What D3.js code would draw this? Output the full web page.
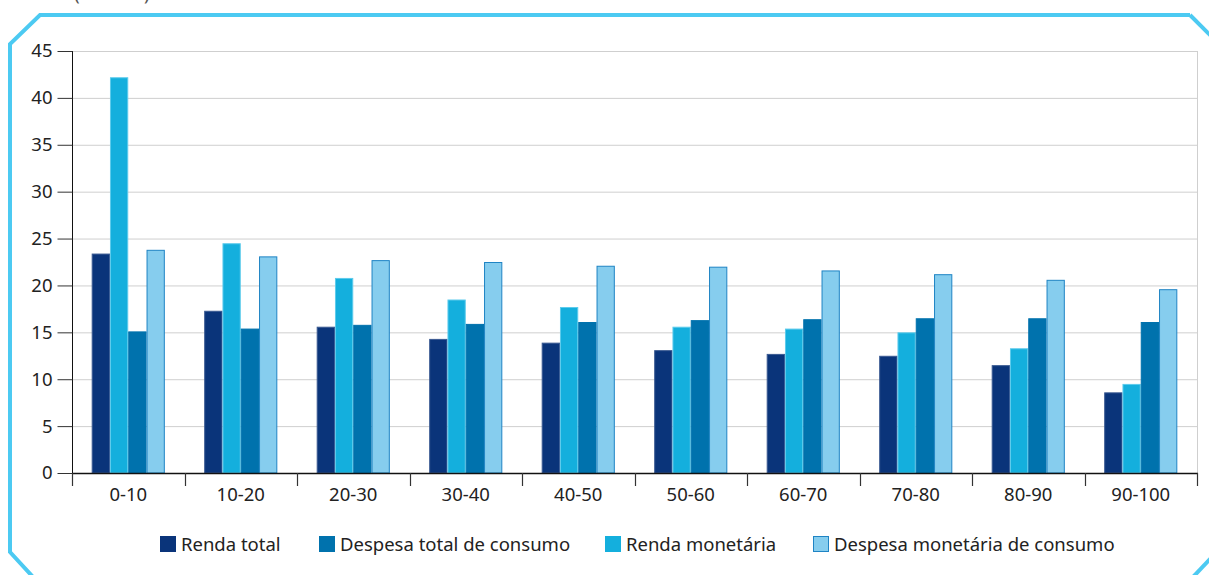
<!DOCTYPE html>
<html>
<head>
<meta charset="utf-8">
<script src="https://cdn.jsdelivr.net/npm/d3@7"></script>
<style>
  html, body { margin: 0; padding: 0; background: #fff; }
  svg { display: block; font-family: "Noto Sans", "Open Sans", sans-serif; }
</style>
</head>
<body>
<svg id="chart" width="1209" height="575"></svg>
<script>
const categories = ["0-10", "10-20", "20-30", "30-40", "40-50", "50-60", "60-70", "70-80", "80-90", "90-100"];
const rendaTotal = [23.4, 17.3, 15.6, 14.3, 13.9, 13.1, 12.7, 12.5, 11.5, 8.6];
const rendaMonetaria = [42.2, 24.5, 20.8, 18.5, 17.7, 15.6, 15.4, 15.0, 13.3, 9.5];
const despesaTotal = [15.1, 15.4, 15.8, 15.9, 16.1, 16.3, 16.4, 16.5, 16.5, 16.1];
const despesaMonetaria = [23.8, 23.1, 22.7, 22.5, 22.1, 22.0, 21.6, 21.2, 20.6, 19.6];
const yTicks = [0, 5, 10, 15, 20, 25, 30, 35, 40, 45];
const unitLabel = "(em %)";

// drawing order within each group
const seriesOrder = [
  { key: "rt", name: "Renda total", values: rendaTotal, fill: "#0a347a", stroke: "#3a5a92" },
  { key: "rm", name: "Renda monetária", values: rendaMonetaria, fill: "#14afdd", stroke: "#5ccbec" },
  { key: "dt", name: "Despesa total de consumo", values: despesaTotal, fill: "#0072ad", stroke: "#0072ad" },
  { key: "dm", name: "Despesa monetária de consumo", values: despesaMonetaria, fill: "#86cdee", stroke: "#1f84c4" }
];
const legendOrder = ["rt", "dt", "rm", "dm"];

const svg = d3.select("#chart");
const mLeft = 72, mRight = 1197, mTop = 51, mBottom = 473;

const x = d3.scaleBand().domain(categories).range([mLeft, mRight]).paddingInner(0.35).paddingOuter(0.175);
const x1 = d3.scaleBand().domain(seriesOrder.map(s => s.key)).range([0, x.bandwidth()]);
const y = d3.scaleLinear().domain([0, 45]).range([mBottom, mTop]);

// frame
const frame = d3.path();
frame.moveTo(1190, 15);
frame.lineTo(40, 15);
frame.lineTo(10, 44);
frame.lineTo(10, 552);
frame.lineTo(33, 577);
svg.append("path").attr("d", frame.toString()).attr("fill", "none")
  .attr("stroke", "#4ccaf2").attr("stroke-width", 4);
const frame2 = d3.path();
frame2.moveTo(1190, 15);
frame2.lineTo(1212, 37);
svg.append("path").attr("d", frame2.toString()).attr("fill", "none")
  .attr("stroke", "#4ccaf2").attr("stroke-width", 4);
const frame3 = d3.path();
frame3.moveTo(1193, 577);
frame3.lineTo(1212, 557);
svg.append("path").attr("d", frame3.toString()).attr("fill", "none")
  .attr("stroke", "#4ccaf2").attr("stroke-width", 4);

// cut-off unit label (cropped at the top edge, as in the reference)
svg.append("text").attr("x", 74).attr("y", 0).attr("font-size", 19)
  .attr("fill", "#555").attr("letter-spacing", 3).text(unitLabel);

// grid
svg.append("g").selectAll("line").data(yTicks.filter(d => d > 0)).join("line")
  .attr("x1", mLeft).attr("x2", mRight)
  .attr("y1", d => y(d) + 0.5).attr("y2", d => y(d) + 0.5)
  .attr("stroke", "#cfcfcf").attr("stroke-width", 1);
svg.append("line").attr("x1", mRight + 0.5).attr("x2", mRight + 0.5)
  .attr("y1", mTop).attr("y2", mBottom).attr("stroke", "#cfcfcf");

// bars
const groups = svg.append("g").selectAll("g").data(categories).join("g")
  .attr("transform", d => `translate(${x(d)},0)`);
groups.selectAll("rect").data((c, i) => seriesOrder.map(s => ({ s, v: s.values[i] }))).join("rect")
  .attr("x", d => x1(d.s.key) + 0.5)
  .attr("width", x1.bandwidth() - 1)
  .attr("y", d => y(d.v) + 0.5)
  .attr("height", d => mBottom - y(d.v) - 0.5)
  .attr("fill", d => d.s.fill)
  .attr("stroke", d => d.s.stroke)
  .attr("stroke-width", 1);

// y axis
const yAxis = d3.axisLeft(y).tickValues(yTicks).tickSize(15).tickPadding(5);
const gy = svg.append("g").attr("transform", `translate(${mLeft + 0.5},0)`).call(yAxis);
gy.select(".domain").attr("d", `M0,${mTop}V${mBottom}`).attr("stroke", "#111");
gy.selectAll(".tick line").attr("stroke", "#333");
gy.selectAll(".tick text").attr("font-size", 18.5).attr("fill", "#222")
  .attr("font-family", "Noto Sans, sans-serif");

// x axis
const xAxis = d3.axisBottom(x).tickSize(0).tickPadding(14);
const gx = svg.append("g").attr("transform", `translate(0,${mBottom + 0.5})`).call(xAxis);
gx.select(".domain").attr("d", `M${mLeft},0H${mRight + 1}`).attr("stroke", "#111").attr("stroke-width", 1.5);
gx.selectAll(".tick text").attr("font-size", 18.5).attr("fill", "#222")
  .attr("font-family", "Noto Sans, sans-serif");
const bounds = categories.map(c => x(c) - x.step() * x.paddingInner() / 2).concat([mRight]);
svg.append("g").selectAll("line").data(bounds).join("line")
  .attr("x1", d => Math.round(d) + 0.5).attr("x2", d => Math.round(d) + 0.5)
  .attr("y1", mBottom).attr("y2", mBottom + 13)
  .attr("stroke", "#333").attr("stroke-width", 1.2);

// legend
const legendX = { rt: 160, dt: 319, rm: 605, dm: 813 };
const lg = svg.append("g").selectAll("g").data(legendOrder.map(k => seriesOrder.find(s => s.key === k))).join("g")
  .attr("transform", d => `translate(${legendX[d.key]},536)`);
lg.append("rect").attr("x", 0.5).attr("y", 0.5).attr("width", 15).attr("height", 15)
  .attr("fill", d => d.fill).attr("stroke", d => d.key === "dm" ? d.stroke : d.fill);
lg.append("text").attr("x", 21).attr("y", 15).attr("font-size", 18.5).attr("fill", "#222")
  .text(d => d.name);
</script>
</body>
</html>
